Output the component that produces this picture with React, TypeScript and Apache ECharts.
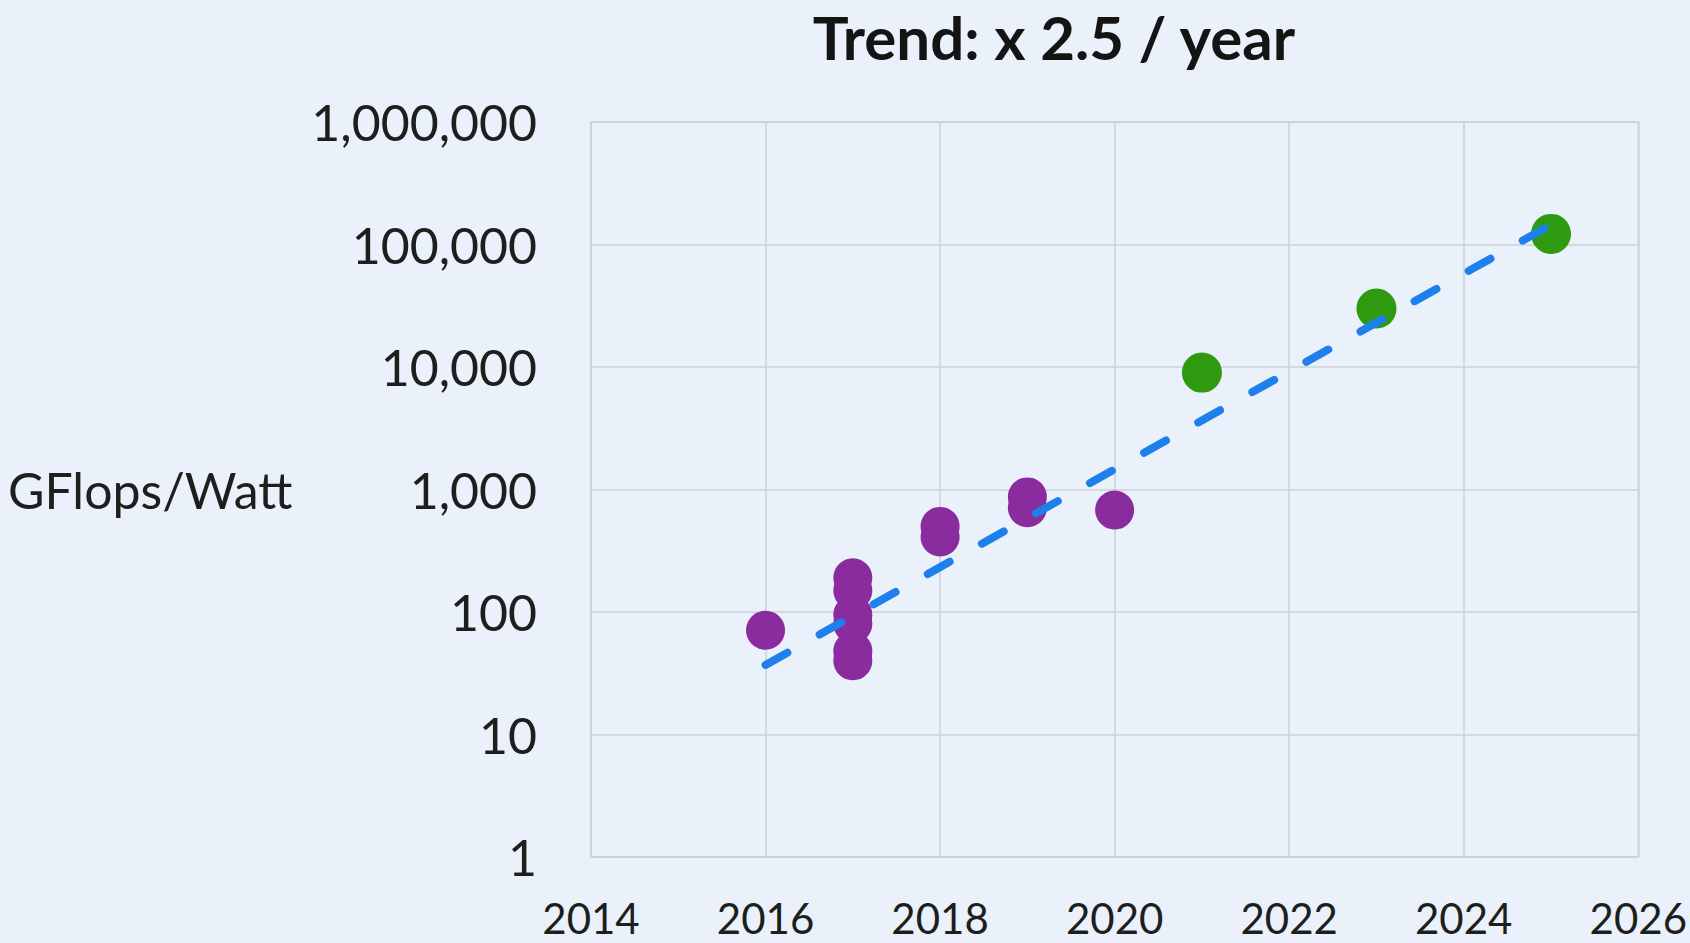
import React, { useEffect, useRef } from "react";
import * as echarts from "echarts";

const titleText = "Trend: x 2.5 / year";
const yAxisTitle = "GFlops/Watt";
const xTicks = [2014, 2016, 2018, 2020, 2022, 2024, 2026];
const yTicks = [1, 10, 100, 1000, 10000, 100000, 1000000];

// Earlier chips (purple)
const purpleYears = [2016, 2017, 2017, 2017, 2017, 2017, 2017, 2018, 2018, 2019, 2019, 2020];
const purpleValues = [71, 190, 150, 95, 80, 48, 40, 500, 410, 870, 710, 680];

// Recent / projected chips (green)
const greenYears = [2021, 2023, 2025];
const greenValues = [9000, 30000, 122000];

// Trend line endpoints (x 2.5 / year)
const trendYears = [2016, 2025];
const trendValues = [37, 145000];

const FONT = "Lato, 'Open Sans', sans-serif";

export default function App() {
  const ref = useRef<HTMLDivElement>(null);
  useEffect(() => {
    if (!ref.current) return;
    const chart = echarts.init(ref.current, undefined, { renderer: "svg" });
    const toPairs = (xs: number[], ys: number[]) => xs.map((x, i) => [x, ys[i]]);
    chart.setOption({
      animation: false,
      backgroundColor: "#EAF1FB",
      textStyle: { fontFamily: FONT },
      grid: {
        left: 591,
        top: 122,
        right: 46,
        bottom: 86,
        show: true,
        borderColor: "#CDD1D8",
        borderWidth: 1.5,
        backgroundColor: "transparent",
      },
      graphic: [
        {
          type: "text",
          x: 1054,
          y: 37,
          style: {
            text: titleText,
            font: `bold 60px ${FONT}`,
            lineHeight: 56,
            fill: "#141414",
            textAlign: "center",
            textVerticalAlign: "middle",
          },
        },
        {
          type: "text",
          x: 8,
          y: 490,
          style: {
            text: yAxisTitle,
            font: `50px ${FONT}`,
            fill: "#1c1f1c",
            textAlign: "left",
            textVerticalAlign: "middle",
          },
        },
      ],
      xAxis: {
        type: "value",
        min: xTicks[0],
        max: xTicks[xTicks.length - 1],
        interval: 2,
        axisLine: { show: true, lineStyle: { color: "#CDD1D8", width: 1.5 } },
        axisTick: { show: false },
        splitLine: { show: true, lineStyle: { color: "#CDD1D8", width: 1.5 } },
        axisLabel: {
          margin: 40,
          fontSize: 42,
          lineHeight: 42,
          color: "#1c1f1c",
          fontFamily: FONT,
          formatter: (v: number) => String(v),
        },
      },
      yAxis: {
        type: "log",
        logBase: 10,
        min: yTicks[0],
        max: yTicks[yTicks.length - 1],
        splitNumber: 6,
        axisLine: { show: true, lineStyle: { color: "#CDD1D8", width: 1.5 } },
        axisTick: { show: false },
        splitLine: { show: true, lineStyle: { color: "#CDD1D8", width: 1.5 } },
        axisLabel: {
          margin: 54,
          fontSize: 50,
          color: "#1c1f1c",
          fontFamily: FONT,
          formatter: (v: number) => Math.round(v).toLocaleString("en-US"),
        },
      },
      series: [
        {
          type: "scatter",
          data: toPairs(purpleYears, purpleValues),
          symbolSize: 39,
          itemStyle: { color: "#8A2B9E", opacity: 1 },
          z: 2,
        },
        {
          type: "scatter",
          data: toPairs(greenYears, greenValues),
          symbolSize: 40,
          itemStyle: { color: "#2E9A10", opacity: 1 },
          z: 2,
        },
        {
          type: "line",
          data: toPairs(trendYears, trendValues),
          symbol: "none",
          lineStyle: { color: "#1E80EA", width: 8, type: [25, 37], cap: "round" },
          z: 3,
        },
      ],
    });
    return () => chart.dispose();
  }, []);
  return (
    <div
      ref={ref}
      style={{ position: "fixed", left: 0, top: 0, width: 1690, height: 943 }}
    />
  );
}
